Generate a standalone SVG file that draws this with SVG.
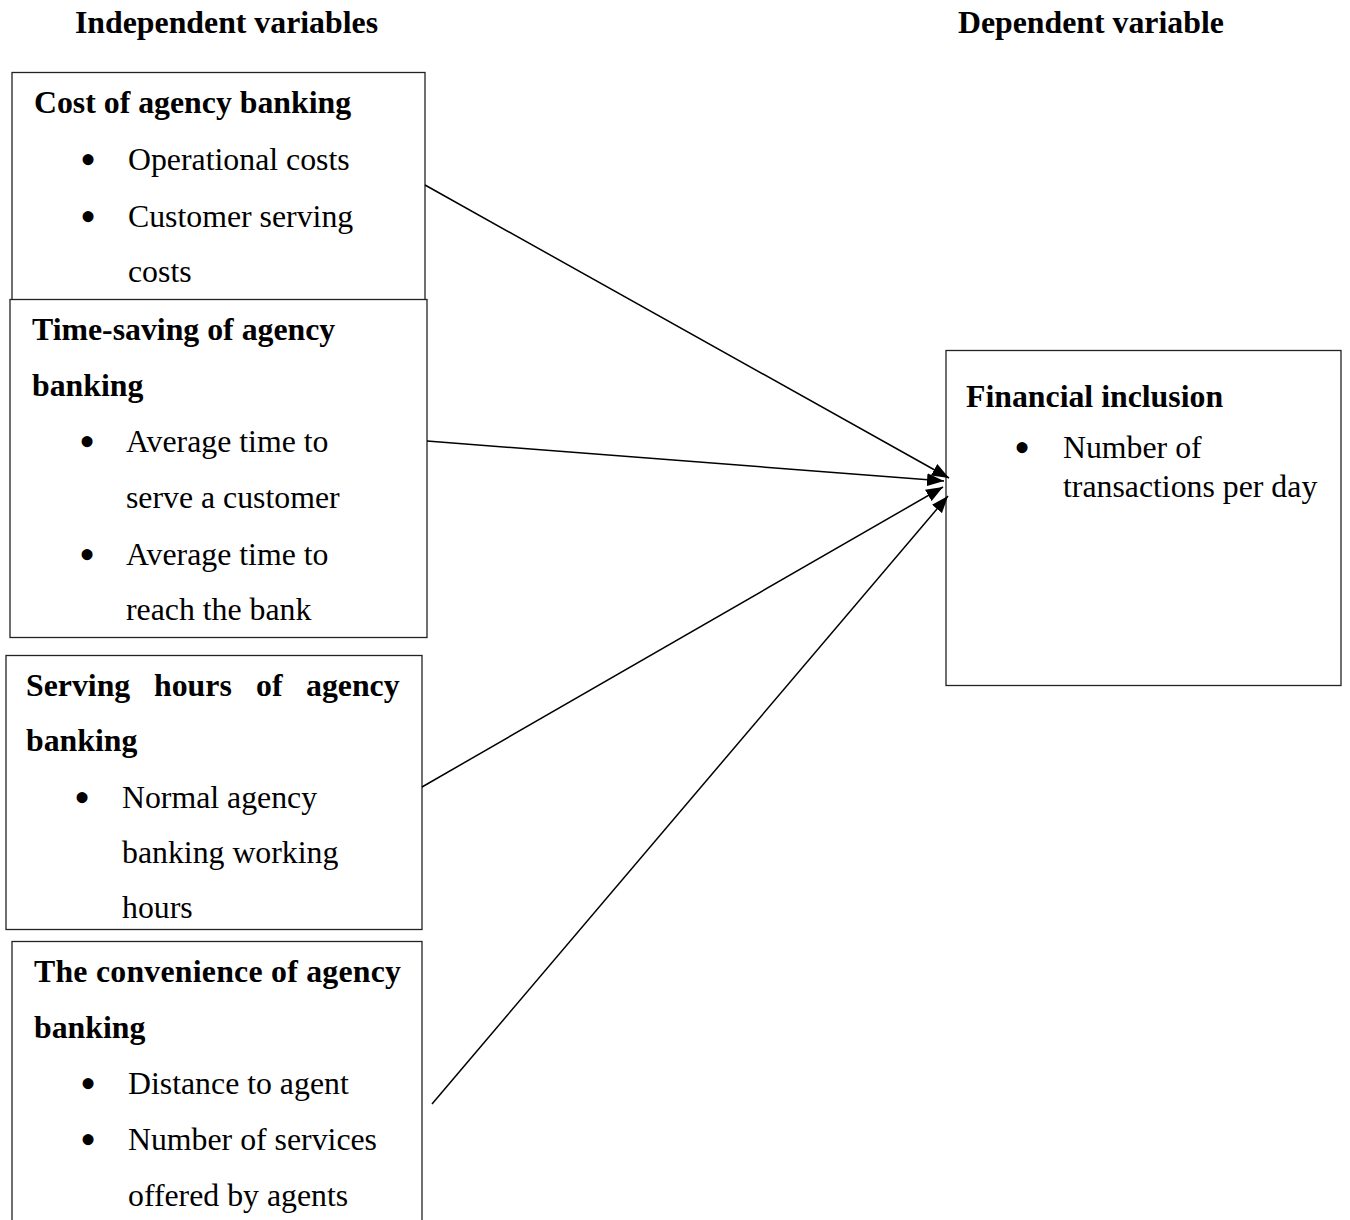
<svg xmlns="http://www.w3.org/2000/svg" width="1350" height="1220" viewBox="0 0 1350 1220">
<style>
text{font-family:"Liberation Serif","Times New Roman",serif;font-size:31.8px;fill:#000}
.b{font-weight:bold}
text.u{font-size:46px;text-anchor:middle}
.box{fill:#fff;stroke:#222;stroke-width:1.3}
.conn{stroke:#000;stroke-width:1.5;fill:none}
</style>
<defs>
<marker id="ah" markerUnits="userSpaceOnUse" markerWidth="18" markerHeight="14" refX="17" refY="6.5" orient="auto" viewBox="0 0 18 13">
<path d="M0,0 L17,6.5 L0,13 z" fill="#000"/>
</marker>
</defs>
<rect width="1350" height="1220" fill="#fff"/>
<text class="b" x="75" y="33">Independent variables</text>
<text class="b" x="958" y="33">Dependent variable</text>
<g id="node-cost">
<rect class="box" x="12" y="72.5" width="413" height="228"/>
<text class="b" x="34" y="113">Cost of agency banking</text>
<text class="u" x="88" y="175">•</text><text x="128" y="170">Operational costs</text>
<text class="u" x="88" y="232">•</text><text x="128" y="227">Customer serving</text>
<text x="128" y="282">costs</text>
</g>
<g id="node-time">
<rect class="box" x="10" y="299.5" width="417" height="338"/>
<text class="b" x="32" y="340">Time-saving of agency</text>
<text class="b" x="32" y="396">banking</text>
<text class="u" x="87" y="457">•</text><text x="126" y="452">Average time to</text>
<text x="126" y="508">serve a customer</text>
<text class="u" x="87" y="570">•</text><text x="126" y="565">Average time to</text>
<text x="126" y="620">reach the bank</text>
</g>
<g id="node-hours">
<rect class="box" x="6" y="655.5" width="416" height="274"/>
<text class="b" y="696"><tspan x="26">Serving</tspan><tspan x="154">hours</tspan><tspan x="256">of</tspan><tspan x="306">agency</tspan></text>
<text class="b" x="26" y="751">banking</text>
<text class="u" x="82" y="813">•</text><text x="122" y="808">Normal agency</text>
<text x="122" y="863">banking working</text>
<text x="122" y="918">hours</text>
</g>
<g id="node-convenience">
<rect class="box" x="12" y="941.5" width="410" height="300"/>
<text class="b" x="34" y="982" textLength="367" lengthAdjust="spacing">The convenience of agency</text>
<text class="b" x="34" y="1038">banking</text>
<text class="u" x="88" y="1099">•</text><text x="128" y="1094">Distance to agent</text>
<text class="u" x="88" y="1155">•</text><text x="128" y="1150">Number of services</text>
<text x="128" y="1206">offered by agents</text>
</g>
<g id="node-financial">
<rect class="box" x="946" y="350.5" width="395" height="335"/>
<text class="b" x="966" y="407">Financial inclusion</text>
<text class="u" x="1022" y="463">•</text><text x="1063" y="458">Number of</text>
<text x="1063" y="497">transactions per day</text>
</g>
<g id="connectors">
<line class="conn" x1="425" y1="185" x2="949" y2="478" marker-end="url(#ah)"/>
<line class="conn" x1="427" y1="441" x2="944" y2="481" marker-end="url(#ah)"/>
<line class="conn" x1="422" y1="787" x2="943" y2="487" marker-end="url(#ah)"/>
<line class="conn" x1="432" y1="1104" x2="948" y2="496" marker-end="url(#ah)"/>
</g>
</svg>
